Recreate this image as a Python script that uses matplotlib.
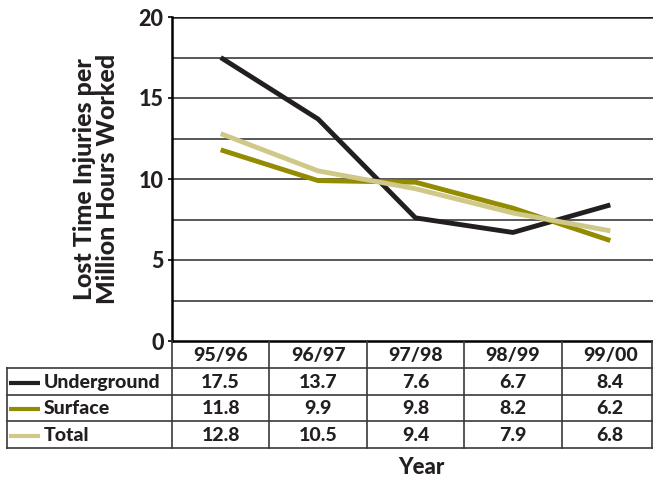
import matplotlib
matplotlib.use("Agg")
import matplotlib.pyplot as plt
import numpy as np

years = ["95/96", "96/97", "97/98", "98/99", "99/00"]
underground = [17.5, 13.7, 7.6, 6.7, 8.4]
surface = [11.8, 9.9, 9.8, 8.2, 6.2]
total = [12.8, 10.5, 9.4, 7.9, 6.8]

series = [("Underground", underground, "#231f20"),
          ("Surface", surface, "#938b00"),
          ("Total", total, "#cfc889")]

plt.rcParams["font.family"] = ["Lato", "DejaVu Sans"]
WT = "black"
INK = "#231f20"

W, H = 653, 480
fig = plt.figure(figsize=(W / 100, H / 100), dpi=100)

def fx(px):
    return px / W

def fy(py):
    return 1 - py / H

# chart area
x0, x1, ytop, ybot = 172, 653, 17, 341
colw = 97.4
ax = fig.add_axes([fx(x0), fy(ybot), fx(x1 - x0), fy(ytop) - fy(ybot)])
ax.set_xlim(-0.5, (x1 - x0) / colw - 0.5)
ax.set_ylim(0, 20)
for v in np.arange(2.5, 20, 2.5):
    ax.axhline(v, color="#2a2a2a", lw=1.1, zorder=1)
ax.axhline(20, color=INK, lw=1.8, zorder=1)
x = np.arange(len(years))
for name, vals, c in series:
    ax.plot(x, vals, color=c, lw=3.5, solid_capstyle="butt", zorder=3)

for s in ["top", "right"]:
    ax.spines[s].set_visible(False)
ax.spines["left"].set_linewidth(1.8)
ax.spines["bottom"].set_linewidth(1.8)
ax.set_xticks([])
ax.set_yticks([0, 5, 10, 15, 20])
ax.tick_params(axis="y", length=3, width=1.2, labelsize=15.5, pad=3,
               labelcolor=INK)
for t in ax.get_yticklabels():
    t.set_fontweight(WT)
ax.set_ylabel("Lost Time Injuries per\nMillion Hours Worked", fontsize=18,
              fontweight=WT, labelpad=14, linespacing=1.0, color=INK)

# data table below the chart
tab = fig.add_axes([0, 0, 1, 1])
tab.set_xlim(0, W)
tab.set_ylim(H, 0)
tab.axis("off")
lc = "#3a3a3a"
rows = [341, 368, 395, 421, 448]
lab_x0 = 7
col_edges = [x0 + colw * i for i in range(len(years))] + [W - 1]
# horizontal rules
for yy in rows[1:]:
    tab.plot([lab_x0, W], [yy, yy], color=lc, lw=1.2)
# vertical rules
tab.plot([lab_x0, lab_x0], [rows[1], rows[-1]], color=lc, lw=1.2)
for ce in col_edges:
    tab.plot([ce, ce], [rows[0], rows[-1]], color=lc, lw=1.2)

fs = 14
for i, yr in enumerate(years):
    cx = x0 + colw * (i + 0.5)
    tab.text(cx, (rows[0] + rows[1]) / 2 + 1, yr, ha="center", va="center",
             fontsize=fs, fontweight=WT, color=INK)
for r, (name, vals, c) in enumerate(series):
    cy = (rows[r + 1] + rows[r + 2]) / 2 + 1
    tab.plot([9, 40], [cy, cy], color=c, lw=3.0, solid_capstyle="butt")
    tab.text(44, cy, name, ha="left", va="center", fontsize=fs,
             fontweight=WT, color=INK)
    for i, v in enumerate(vals):
        cx = x0 + colw * (i + 0.5)
        tab.text(cx, cy, f"{v:.1f}", ha="center", va="center", fontsize=fs,
                 fontweight=WT, color=INK)

tab.text(421, 467, "Year", ha="center", va="center", fontsize=16,
         fontweight=WT, color=INK)

fig.savefig("out.png", dpi=100)
